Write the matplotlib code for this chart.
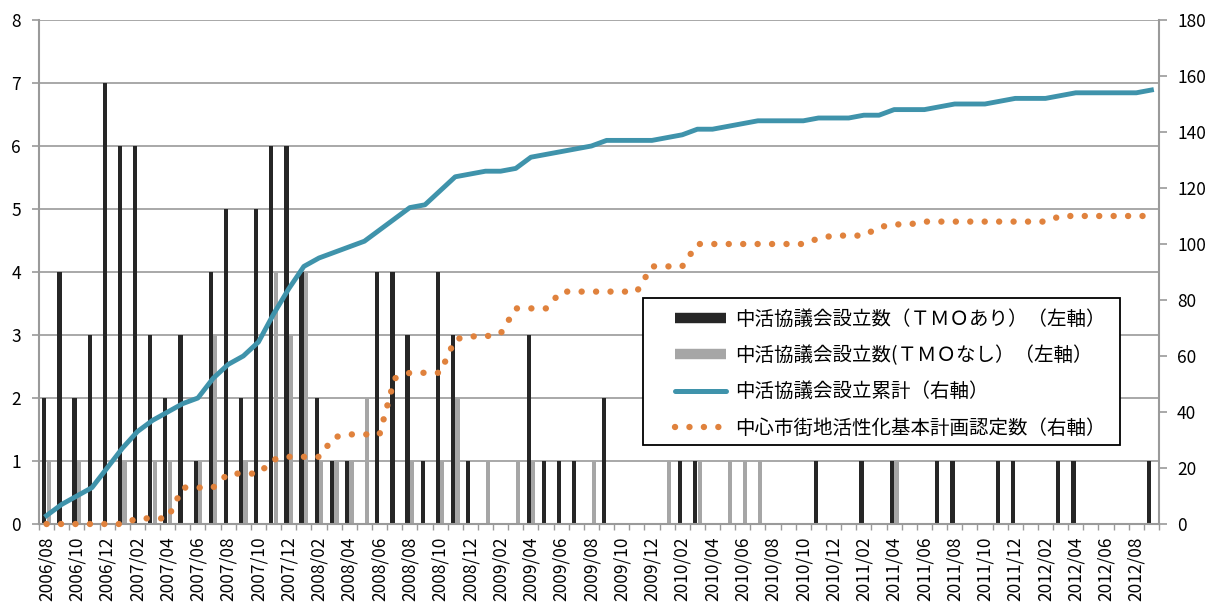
import matplotlib
matplotlib.use('Agg')
import matplotlib.pyplot as plt
from matplotlib.patches import Rectangle
from matplotlib.lines import Line2D
import numpy as np
import pandas as pd

plt.rcParams['font.family'] = ['Noto Sans CJK JP', 'DejaVu Sans']

# 2006/08 - 2012/09, monthly
months = pd.period_range('2006-08', '2012-09', freq='M').strftime('%Y/%m').tolist()

# 中活協議会設立数 (TMOあり), left axis
tmo_yes = [2, 4, 2, 3, 7, 6, 6, 3, 2, 3, 1, 4, 5, 2, 5, 6, 6, 4, 2, 1,
           1, 0, 4, 4, 3, 1, 4, 3, 1, 0, 0, 0, 3, 1, 1, 1, 0, 2, 0, 0,
           0, 0, 1, 1, 0, 0, 0, 0, 0, 0, 0, 1, 0, 0, 1, 0, 1, 0, 0, 1,
           1, 0, 0, 1, 1, 0, 0, 1, 1, 0, 0, 0, 0, 1]
# 中活協議会設立数 (TMOなし), left axis
tmo_no = [1, 0, 1, 0, 0, 1, 0, 1, 1, 0, 1, 3, 0, 1, 0, 4, 3, 4, 1, 1,
          1, 2, 0, 0, 1, 0, 1, 2, 0, 1, 0, 1, 1, 0, 0, 0, 1, 0, 0, 0,
          0, 1, 0, 1, 0, 1, 1, 1, 0, 0, 0, 0, 0, 0, 0, 0, 1, 0, 0, 0,
          0, 0, 0, 0, 0, 0, 0, 0, 0, 0, 0, 0, 0, 0]
# 中活協議会設立累計, right axis
cumulative = [3, 7, 10, 13, 20, 27, 33, 37, 40, 43, 45, 52, 57, 60, 65, 75, 84, 92, 95, 97,
              99, 101, 105, 109, 113, 114, 119, 124, 125, 126, 126, 127, 131, 132, 133, 134, 135, 137, 137, 137,
              137, 138, 139, 141, 141, 142, 143, 144, 144, 144, 144, 145, 145, 145, 146, 146, 148, 148, 148, 149,
              150, 150, 150, 151, 152, 152, 152, 153, 154, 154, 154, 154, 154, 155]
# 中心市街地活性化基本計画認定数, right axis
plans = [0, 0, 0, 0, 0, 0, 2, 2, 2, 13, 13, 13, 18, 18, 18, 23, 24, 24, 24, 31,
         32, 32, 32, 52, 54, 54, 54, 66, 67, 67, 68, 77, 77, 77, 83, 83, 83, 83, 83, 83,
         92, 92, 92, 100, 100, 100, 100, 100, 100, 100, 100, 102, 103, 103, 103, 106, 107, 107, 108, 108,
         108, 108, 108, 108, 108, 108, 108, 110, 110, 110, 110, 110, 110, 110]

labels = ['中活協議会設立数（ＴＭＯあり）（左軸）',
          '中活協議会設立数(ＴＭＯなし）（左軸）',
          '中活協議会設立累計（右軸）',
          '中心市街地活性化基本計画認定数（右軸）']

BLACK = '#262626'
GRAY = '#A6A6A6'
TEAL = '#3F93AB'
ORANGE = '#E0823D'
AXIS = '#9A9A9A'
DOTS = (0, (0.01, 2.25))

fig = plt.figure(figsize=(12.11, 6.06), dpi=100)
ax = fig.add_axes([39 / 1211, 82 / 606, 1120 / 1211, 504 / 606])

x = np.arange(len(months))
ax.bar(x - 0.15, tmo_yes, width=0.28, color=BLACK, zorder=2)
ax.bar(x + 0.15, tmo_no, width=0.28, color=GRAY, zorder=2)

ax.set_xlim(-0.5, len(months) - 0.5)
ax.set_ylim(0, 8)
ax.set_yticks(range(0, 9))
ax.yaxis.grid(True, color=AXIS, lw=1.2)
ax.set_axisbelow(True)
for s in ['top', 'right']:
    ax.spines[s].set_visible(False)
for s in ['left', 'bottom']:
    ax.spines[s].set_color(AXIS)
    ax.spines[s].set_linewidth(1.5)

ax.set_xticks(x[::2])
ax.set_xticklabels(months[::2])
ax.set_xticks(np.arange(-0.5, len(months)), minor=True)
ax.tick_params(axis='x', which='major', length=0, pad=9, labelrotation=90, labelsize=12.5)
ax.tick_params(axis='x', which='minor', length=4, color=AXIS, width=1)
ax.tick_params(axis='y', length=5, color=AXIS, width=1.2, pad=8, labelsize=12.5)

ax2 = ax.twinx()
ax2.set_ylim(0, 180)
ax2.set_yticks(range(0, 181, 20))
for s in ['top', 'left', 'bottom']:
    ax2.spines[s].set_visible(False)
ax2.spines['right'].set_color(AXIS)
ax2.spines['right'].set_linewidth(1.5)
ax2.tick_params(axis='y', length=6, color=AXIS, width=1.2, pad=7, labelsize=12.5)

ax2.plot(x, cumulative, color=TEAL, lw=3.5, solid_joinstyle='round', zorder=3, clip_on=False)
ax2.plot(x, plans, color=ORANGE, lw=4.6, linestyle=DOTS, dash_capstyle='round', zorder=3, clip_on=False)

# legend box drawn separately so padding can match
ax2.add_patch(Rectangle(((643 - 39) / 1120, (524 - 445) / 504), (1120 - 643) / 1120, (445 - 298) / 504,
                        transform=ax2.transAxes, facecolor='white', edgecolor='black', lw=1.3, zorder=4))
handles = [Line2D([], [], color=BLACK, lw=7.5, solid_capstyle='butt'),
           Line2D([], [], color=GRAY, lw=7.5, solid_capstyle='butt'),
           Line2D([], [], color=TEAL, lw=3.6, solid_capstyle='round'),
           Line2D([], [], color=ORANGE, lw=4.6, linestyle=DOTS, dash_capstyle='round')]
leg = ax2.legend(handles, labels, loc='upper left',
                 bbox_to_anchor=((675 - 39) / 1120, (524 - 309) / 504),
                 frameon=False, borderpad=0, borderaxespad=0, fontsize=14,
                 handlelength=2.63, handletextpad=0.45, labelspacing=0.78)
leg.set_zorder(5)

fig.savefig('out.png', dpi=100)
